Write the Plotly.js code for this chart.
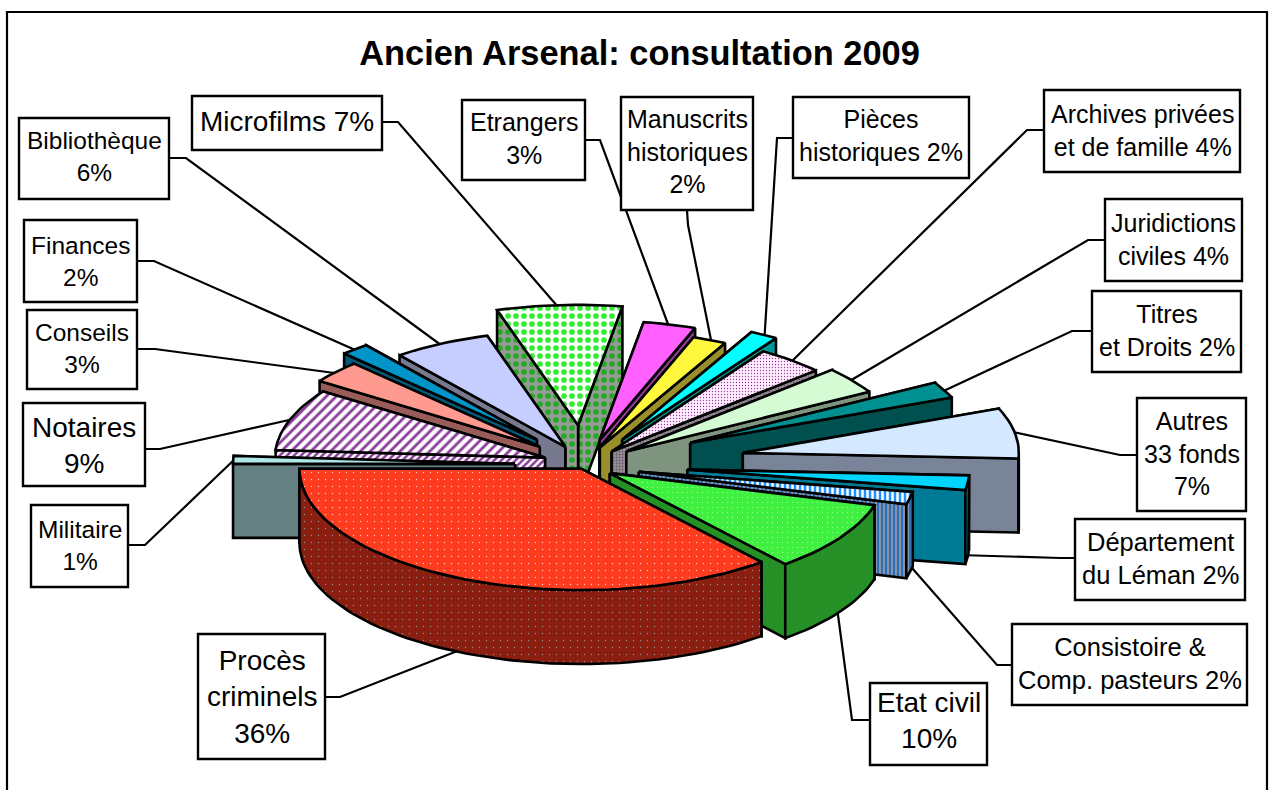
<!DOCTYPE html>
<html><head><meta charset="utf-8">
<script src="https://cdn.plot.ly/plotly-3.0.1.min.js"></script>
<style>html,body{margin:0;padding:0;background:#fff}#c{width:1273px;height:790px}</style>
</head><body><div id="c"></div>
<script>
// ---- data ----
const categories = ["Procès criminels","Etat civil","Consistoire & Comp. pasteurs","Département du Léman","Autres 33 fonds","Titres et Droits","Juridictions civiles","Archives privées et de famille","Pièces historiques","Manuscrits historiques","Etrangers","Microfilms","Bibliothèque","Finances","Conseils","Notaires","Militaire"];
const shares = [36,9.6,1.67,1.95,6.85,2.17,3.6,3.95,1.6,2,3.05,7.2,5.85,1.67,3.15,8.6,1.05];
const labels = ["Procès<br>criminels<br>36%","Etat civil<br>10%","Consistoire &<br>Comp. pasteurs 2%","Département<br>du Léman 2%","Autres<br>33 fonds<br>7%","Titres<br>et Droits 2%","Juridictions<br>civiles 4%","Archives privées<br>et de famille 4%","Pièces<br>historiques 2%","Manuscrits<br>historiques<br>2%","Etrangers<br>3%","Microfilms 7%","Bibliothèque<br>6%","Finances<br>2%","Conseils<br>3%","Notaires<br>9%","Militaire<br>1%"];
// ---- styling / layout ----
const pull = [20,26,50,98,155,108,45,32,60,32,50,88,45,75,62,45,78];
const nudgeX = [0,-2,0,0,0,3,0,1,2,-3,-3,-6,-4,-4,-3,-2.5,3];
const nudgeY = [-1,5,5,3,2,1,1,0,0,-2,-1,1,2,2,2,2,3];
const radius = [282,275,278,282,276,282,280,278,282,273,278,280,270,278,268,270,282];
const topFill = ["#FF3B20","#40F040","#1E90FF","#00D4FF","#D4E8FF","#009090","#D4FBD4","#FFEEFF","#00FFFF","#FFF83C","#FF60FF","#FFFFFF","#C6CEFF","#0094C8","#FF9A90","#FFFFFF","#B0E8E8"];
const sideFill = ["#8A1E10","#259025","#8A94A8","#007B96","#7A8498","#005050","#7F947F","#999099","#009999","#99902A","#993C99","#999999","#77798F","#005A78","#995C58","#FFFFFF","#648080"];
const topPat = [{shape:".",fg:"#FFD0C0",size:7,sol:.03},{shape:".",fg:"#B0FFB0",size:5,sol:.04},{shape:"|",fg:"#FFFFFF",size:5,sol:.5},null,null,null,null,{shape:".",fg:"#993C99",size:3,sol:.15},null,null,null,{shape:".",fg:"#33EE33",size:8,sol:.4},null,null,null,{shape:"/",fg:"#8A3C99",size:7,sol:.4},null];
const sidePat = [{shape:".",fg:"#8F8F8F",size:7,sol:.03},{shape:".",fg:"#2F9A2F",size:5,sol:.04},{shape:"|",fg:"#2A6FB8",size:4,sol:.5},null,null,null,null,{shape:".",fg:"#665566",size:3,sol:.3},null,null,null,{shape:".",fg:"#22AA22",size:8,sol:.4},null,null,null,{shape:"/",fg:"#8A3C99",size:5,sol:.5},null];
const boxes = [[198,634,325,759,28,0],[870,683,987,765,28,-4],[1012,624,1247,705,25.5,-1],[1075,519,1245,600,25.5,-1],[1137,398,1246,511,25,-1],[1092,291,1241,372,25,-1],[1105,199,1242,281,25,-1],[1044,90,1240,172,25,-1],[793,97,969,178,25,-2],[621,97,753,210,25,-2],[462,100,585,180,25,-2],[192,96,382,150,28,-2],[19,118,169,199,24.5,-2],[24,220,137,302,24.5,0],[27,310,137,389,24.5,-1],[23,403,145,486,28,1],[31,505,128,587,24.5,-1]];
const leaders = [[[325,697],[340,697],[460,650]],[[870,720],[852,720],[836,600]],[[1012,665],[997,665],[905,560]],[[1075,558],[1060,558],[958,555]],[[1137,455],[1120,455],[1008,431]],[[1092,331],[1072,331],[935,395]],[[1105,240],[1088,240],[848,382]],[[1044,130],[1027,130],[788,365]],[[793,138],[777,138],[764,345]],[[687,210],[688,225],[713,350]],[[585,140],[600,140],[672,335]],[[382,122],[398,122],[565,315]],[[169,158],[186,158],[445,348]],[[137,261],[154,261],[362,353]],[[137,349],[155,349],[342,374]],[[145,449],[160,449],[298,418]],[[128,545],[145,545],[236,458]]];
const CX=590, CY=462, K=0.43, DEPTH=74, START=180;

// ---- geometry: every wedge comes from its share ----
const total = shares.reduce((a,b)=>a+b,0);
const rad = d=>d*Math.PI/180;
let acc = START;
const wedges = shares.map((v,i)=>{
  const a0=acc, a1=acc+v/total*360; acc=a1;
  const mid=(a0+a1)/2;
  const ax=CX+pull[i]*Math.cos(rad(mid))+nudgeX[i], ay=CY-K*pull[i]*Math.sin(rad(mid))+nudgeY[i];
  return {i,a0,a1,mid,ax,ay};
});
const pt=(w,a)=>[w.ax+radius[w.i]*Math.cos(rad(a)), w.ay-K*radius[w.i]*Math.sin(rad(a))];
const traces=[];
function poly(pts,fill,pat){
  const xs=pts.map(p=>p[0]).concat(pts[0][0]), ys=pts.map(p=>p[1]).concat(pts[0][1]);
  const t={type:"scatter",mode:"lines",x:xs,y:ys,fill:"toself",fillcolor:fill,
    line:{color:"#000",width:2.6,shape:"linear"},hoverinfo:"skip",showlegend:false};
  if(pat) t.fillpattern={shape:pat.shape,bgcolor:fill,fgcolor:pat.fg,fgopacity:1,size:pat.size,solidity:pat.sol};
  traces.push(t);
}
wedges.slice().sort((a,b)=>Math.sin(rad(b.mid))-Math.sin(rad(a.mid))).forEach(w=>{
  const i=w.i, n=Math.max(4,Math.ceil((w.a1-w.a0)/2));
  const arc=[]; for(let s=0;s<=n;s++) arc.push(w.a0+(w.a1-w.a0)*s/n);
  const side=sideFill[i], sp=sidePat[i];
  [w.a0,w.a1].sort((a,b)=>Math.sin(rad(b))-Math.sin(rad(a))).forEach(a=>{
    const c=pt(w,a);
    poly([[w.ax,w.ay],c,[c[0],c[1]+DEPTH],[w.ax,w.ay+DEPTH]],side,sp);
  });
  const front=arc.filter(a=>Math.sin(rad(a))<=0.0001);
  if(front.length>1){
    const up=front.map(a=>pt(w,a));
    const dn=up.slice().reverse().map(p=>[p[0],p[1]+DEPTH]);
    poly(up.concat(dn),side,sp);
  }
  poly([[w.ax,w.ay]].concat(arc.map(a=>pt(w,a))),topFill[i],topPat[i]);
});

// ---- decoration ----
const shapes=[{type:"rect",xref:"x",yref:"y",x0:7,y0:12,x1:1267,y1:830,line:{color:"#000",width:2.2},layer:"below"}];
leaders.forEach(l=>shapes.push({type:"path",xref:"x",yref:"y",layer:"below",
  path:"M"+l.map(p=>p.join(",")).join("L"),line:{color:"#000",width:2.2}}));
const annotations=[];
boxes.forEach((b,i)=>{
  shapes.push({type:"rect",xref:"x",yref:"y",layer:"above",x0:b[0],y0:b[1],x1:b[2],y1:b[3],fillcolor:"#fff",line:{color:"#000",width:2.4}});
  annotations.push({xref:"x",yref:"y",x:(b[0]+b[2])/2,y:(b[1]+b[3])/2+b[5],text:labels[i],showarrow:false,
    xanchor:"center",yanchor:"middle",align:"center",font:{family:"Liberation Sans, Arial, sans-serif",size:b[4],color:"#000"}});
});
const layout={width:1273,height:790,margin:{l:0,r:0,t:0,b:0},paper_bgcolor:"#fff",plot_bgcolor:"#fff",showlegend:false,
  title:{text:"<b>Ancien Arsenal: consultation 2009</b>",x:639.5/1273,xanchor:"center",xref:"paper",y:1-53/790,yanchor:"middle",yref:"container",
    font:{family:"Liberation Sans, Arial, sans-serif",size:34.4,color:"#000"}},
  xaxis:{range:[0,1273],visible:false,fixedrange:true},
  yaxis:{range:[790,0],visible:false,fixedrange:true},
  shapes,annotations};
Plotly.newPlot("c",traces,layout,{displayModeBar:false,staticPlot:true});
</script></body></html>
